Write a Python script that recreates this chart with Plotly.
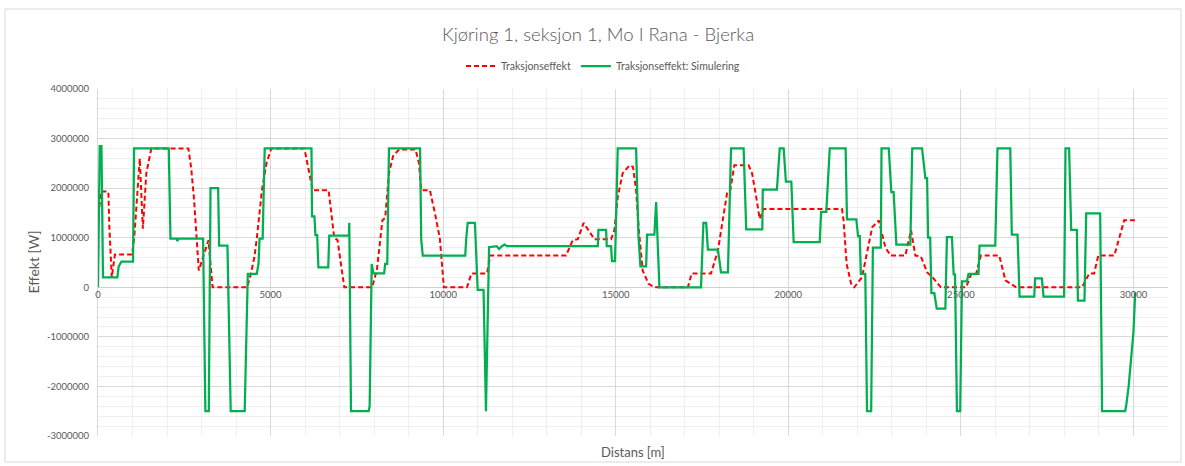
import plotly.graph_objects as go

# ---------------- data ----------------
title_text = "Kjøring 1, seksjon 1, Mo I Rana - Bjerka"
series_names = ["Traksjonseffekt", "Traksjonseffekt: Simulering"]

# Measured traction power (red dashed)
meas_x = [0, 80, 300, 330, 400, 490, 985, 1050, 1210, 1300, 1400, 1545, 2620, 2700, 2780, 2850,
          2920, 3200, 3320, 4320, 4420, 4530, 4600, 4750, 4880, 5020, 5980, 6220, 6680, 6845,
          6940, 7135, 7940, 8080, 8170, 8240, 8320, 8430, 8550, 8720, 9200, 9300, 9365, 9615,
          9760, 9905, 10020, 10690, 10820, 11270, 11365, 13560, 13755, 13900, 14070, 14380,
          14865, 14960, 15058, 15200, 15400, 15500, 15590, 15670, 15780, 15950, 16120, 17090,
          17200, 17760, 17960, 18090, 18230, 18320, 18435, 18850, 18950, 19070, 19170, 19285,
          21555, 21600, 21690, 21820, 21910, 22135, 22300, 22430, 22620, 22810, 22960, 23390,
          23555, 23680, 23840, 24025, 24180, 24420, 25150, 25300, 25440, 25580, 26110, 26290,
          26600, 28510, 28720, 28860, 28980, 29445, 29730, 30040]
meas_y = [1.30e6, 1.93e6, 1.93e6, 1.20e6, 0.20e6, 0.66e6, 0.66e6, 1.00e6, 2.60e6, 1.18e6,
          2.30e6, 2.80e6, 2.80e6, 2.40e6, 1.80e6, 1.10e6, 0.34e6, 0.95e6, 0.0, 0.0, 0.25e6,
          0.60e6, 0.98e6, 1.96e6, 2.50e6, 2.80e6, 2.80e6, 1.96e6, 1.96e6, 1.00e6, 0.95e6, 0.0,
          0.0, 0.35e6, 1.00e6, 1.35e6, 1.40e6, 2.30e6, 2.65e6, 2.78e6, 2.78e6, 2.50e6, 1.96e6,
          1.96e6, 1.50e6, 0.98e6, 0.0, 0.0, 0.28e6, 0.28e6, 0.64e6, 0.64e6, 0.95e6, 0.97e6,
          1.30e6, 0.97e6, 0.97e6, 1.15e6, 1.82e6, 2.30e6, 2.46e6, 2.43e6, 1.96e6, 1.15e6,
          0.34e6, 0.07e6, 0.0, 0.0, 0.28e6, 0.28e6, 0.74e6, 1.28e6, 1.92e6, 1.96e6, 2.46e6,
          2.46e6, 2.30e6, 1.82e6, 1.38e6, 1.58e6, 1.58e6, 1.35e6, 0.47e6, 0.07e6, 0.0, 0.20e6,
          0.81e6, 1.21e6, 1.35e6, 0.81e6, 0.64e6, 0.64e6, 1.15e6, 0.64e6, 0.62e6, 0.30e6,
          0.20e6, 0.0, 0.0, 0.27e6, 0.27e6, 0.64e6, 0.64e6, 0.14e6, 0.0, 0.0, 0.28e6, 0.28e6,
          0.64e6, 0.64e6, 1.35e6, 1.35e6]

# Simulated traction power (green)
sim_x = [0, 50, 100, 145, 560, 600, 680, 1015, 1045, 2050, 2100, 2280, 2300, 2330, 3045, 3110,
         3210, 3260, 3480, 3510, 3750, 3845, 4250, 4340, 4600, 4650, 4680, 4770, 4830, 6185,
         6200, 6270, 6300, 6350, 6385, 6670, 6700, 7270, 7280, 7330, 7840, 7870, 7930, 7980,
         8290, 8320, 8380, 8430, 9330, 9365, 9410, 10640, 10670, 10710, 10920, 11000, 11170,
         11240, 11330, 11550, 11620, 11700, 11780, 11850, 14480, 14500, 14720, 14740, 14865,
         14890, 14980, 15058, 15590, 15657, 15715, 15880, 15908, 16120, 16170, 16265, 17470,
         17540, 17620, 17670, 17960, 18050, 18250, 18340, 18705, 18745, 18780, 19246, 19260,
         19670, 19750, 19865, 19930, 20087, 20155, 20910, 20950, 21100, 21200, 21660, 21700,
         21970, 22020, 22070, 22100, 22230, 22280, 22400, 22450, 22680, 22700, 22910, 22985,
         23050, 23130, 23535, 23590, 23875, 23970, 24020, 24050, 24110, 24145, 24230, 24300,
         24550, 24595, 24740, 24790, 24830, 24885, 24980, 25030, 25175, 25220, 25510, 25540,
         25995, 26060, 26430, 26475, 26640, 26700, 27125, 27150, 27345, 27395, 27990, 28030,
         28135, 28195, 28360, 28390, 28580, 28630, 29035, 29090, 29760, 29790, 29860, 29920,
         30000, 30050]
sim_y = [0.0, 2.85e6, 2.85e6, 0.20e6, 0.20e6, 0.42e6, 0.52e6, 0.52e6, 2.80e6, 2.80e6, 0.98e6,
         0.98e6, 0.93e6, 0.98e6, 0.98e6, -2.50e6, -2.50e6, 2.00e6, 2.00e6, 0.84e6, 0.84e6,
         -2.50e6, -2.50e6, 0.27e6, 0.27e6, 0.47e6, 0.98e6, 0.98e6, 2.80e6, 2.80e6, 1.43e6,
         1.43e6, 1.05e6, 1.05e6, 0.40e6, 0.40e6, 1.04e6, 1.04e6, 1.30e6, -2.50e6, -2.50e6,
         -2.40e6, 0.47e6, 0.28e6, 0.28e6, 0.47e6, 0.47e6, 2.80e6, 2.80e6, 0.95e6, 0.64e6,
         0.64e6, 1.00e6, 1.30e6, 1.30e6, -0.05e6, -0.05e6, -2.50e6, 0.81e6, 0.83e6, 0.77e6,
         0.83e6, 0.86e6, 0.83e6, 0.83e6, 1.16e6, 1.16e6, 0.83e6, 0.83e6, 0.53e6, 0.53e6,
         2.80e6, 2.80e6, 1.05e6, 0.42e6, 0.42e6, 1.06e6, 1.06e6, 1.72e6, 0.0, 0.0, 1.30e6,
         1.30e6, 0.76e6, 0.76e6, 0.30e6, 0.30e6, 2.80e6, 2.80e6, 1.76e6, 1.17e6, 1.17e6,
         1.97e6, 1.97e6, 2.80e6, 2.80e6, 2.13e6, 2.13e6, 0.91e6, 0.91e6, 1.52e6, 1.52e6,
         2.80e6, 2.80e6, 1.37e6, 1.37e6, 1.03e6, 1.03e6, 0.27e6, 0.27e6, -2.50e6, -2.50e6,
         0.80e6, 0.80e6, 2.80e6, 2.80e6, 1.92e6, 1.92e6, 0.86e6, 0.86e6, 2.80e6, 2.80e6,
         2.20e6, 2.20e6, 1.00e6, 1.00e6, -0.12e6, -0.12e6, -0.43e6, -0.43e6, 1.01e6, 1.01e6,
         0.26e6, 0.26e6, -2.50e6, -2.50e6, 0.12e6, 0.12e6, 0.27e6, 0.27e6, 0.84e6, 0.84e6,
         2.80e6, 2.80e6, 1.06e6, 1.06e6, -0.19e6, -0.19e6, 0.18e6, 0.18e6, -0.19e6, -0.19e6,
         2.80e6, 2.80e6, 1.16e6, 1.16e6, -0.27e6, -0.27e6, 1.49e6, 1.49e6, -2.50e6, -2.50e6,
         -2.38e6, -2.00e6, -1.55e6, -0.90e6, -0.10e6]

y_tickvals = [-3000000, -2000000, -1000000, 0, 1000000, 2000000, 3000000, 4000000]
y_ticktext = ["-3000000", "-2000000", "-1000000", "0", "1000000", "2000000", "3000000", "4000000"]
x_tickvals = [0, 5000, 10000, 15000, 20000, 25000, 30000]
x_ticktext = ["0", "5000", "10000", "15000", "20000", "25000", "30000"]
x_title = "Distans [m]"
y_title = "Effekt [W]"

# ---------------- figure ----------------
FONT = "Lato"
TXT = "#595959"
W, H = 1185, 466
L, R, T, B = 98, 17, 89, 30
pw, ph = W - L - R, H - T - B

fig = go.Figure()
fig.add_trace(go.Scatter(x=meas_x, y=meas_y, mode="lines", name=series_names[0],
                         line=dict(color="#ff0000", width=2, dash="5px,3px")))
fig.add_trace(go.Scatter(x=sim_x, y=sim_y, mode="lines", name=series_names[1],
                         line=dict(color="#00b050", width=2.25)))

ymin, ymax = -3000000, 4000000
fig.update_layout(
    width=W, height=H,
    margin=dict(l=L, r=R, t=T, b=B, autoexpand=False),
    paper_bgcolor="white", plot_bgcolor="white",
    font=dict(family=FONT, color=TXT),
    title=dict(text=title_text, x=598 / W, xref="container", xanchor="center",
               y=1 - 35 / H, yref="container", yanchor="middle",
               font=dict(family=FONT, size=18.5, color=TXT, weight=300)),
    showlegend=True,
    legend=dict(orientation="h", xref="container", yref="container",
                x=603 / W, xanchor="center", y=1 - 66 / H, yanchor="middle",
                font=dict(size=10.5, color=TXT), itemwidth=30, bgcolor="rgba(0,0,0,0)"),
    xaxis=dict(range=[0, 31000], tickmode="array", tickvals=x_tickvals, ticktext=x_ticktext,
               anchor="free", position=(0 - ymin) / (ymax - ymin), automargin=False,
               showline=False, zeroline=False, ticks="",
               showgrid=True, gridcolor="#d9d9d9", gridwidth=1,
               minor=dict(dtick=1000, tick0=0, showgrid=True, gridcolor="#efefef", gridwidth=1),
               tickfont=dict(size=9.5, color=TXT)),
    yaxis=dict(range=[ymin, ymax], tickmode="array", tickvals=y_tickvals, ticktext=y_ticktext,
               automargin=False,
               showline=True, linecolor="#d9d9d9", linewidth=1,
               zeroline=True, zerolinecolor="#d0d0d0", zerolinewidth=1,
               showgrid=True, gridcolor="#d9d9d9", gridwidth=1,
               minor=dict(dtick=200000, tick0=0, showgrid=True, gridcolor="#efefef", gridwidth=1),
               ticks="", ticklabelstandoff=6,
               tickfont=dict(size=9.5, color=TXT)),
    annotations=[
        dict(text=x_title, xref="paper", yref="paper", x=0.5, y=-(452 - (T + ph)) / ph,
             xanchor="center", yanchor="middle", showarrow=False,
             font=dict(size=13, color=TXT)),
        dict(text=y_title, xref="paper", yref="paper", x=-(L - 33) / pw, y=0.5,
             xanchor="center", yanchor="middle", showarrow=False, textangle=-90,
             font=dict(size=14, color=TXT)),
    ],
    shapes=[
        dict(type="rect", xref="paper", yref="paper",
             x0=-(L - 5) / pw, x1=(1181 - L) / pw,
             y0=-(462 - (T + ph)) / ph, y1=1 + (T - 9) / ph,
             line=dict(color="#d9d9d9", width=1), layer="below"),
    ],
)

fig.write_html("out.html", config={"displayModeBar": False},
               post_script="document.body.style.margin='0';")
